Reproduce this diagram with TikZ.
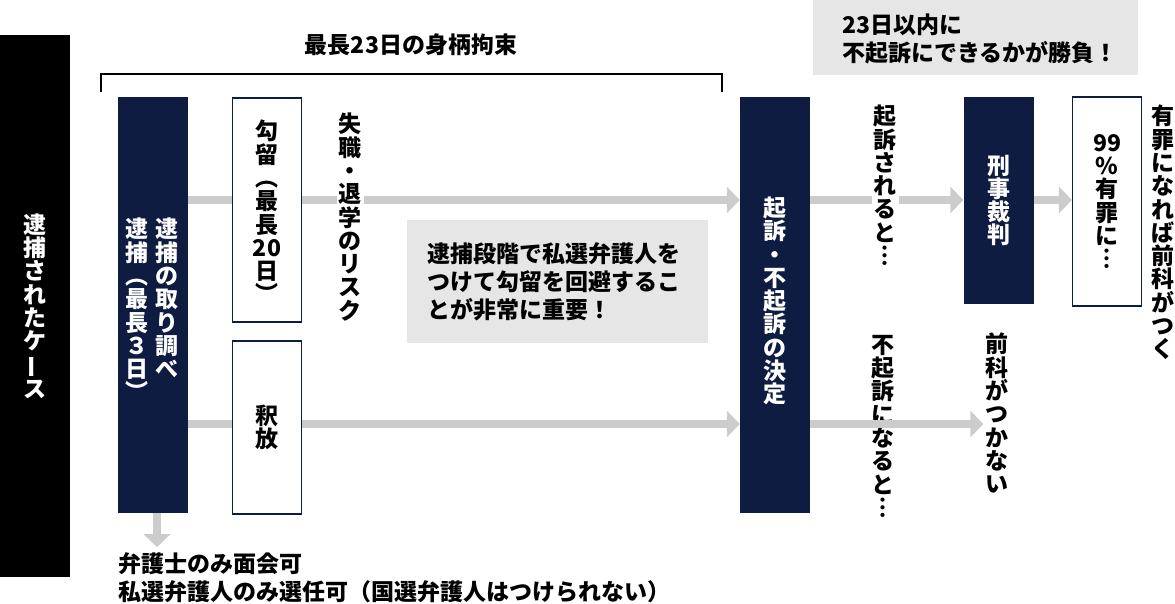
\documentclass[tikz,border=0pt]{standalone}
\usepackage{fontspec}
\setmainfont{Noto Sans CJK JP}
\usepackage{xcolor}
\usepackage{tikz}
\usetikzlibrary{arrows.meta, positioning}
\definecolor{navy}{RGB}{14,28,66}
\definecolor{flowgray}{RGB}{204,204,204}
\definecolor{notegray}{RGB}{230,230,230}
\newcommand{\vbar}{\rotatebox[origin=c]{90}{ー}}

\tikzset{
	txt/.style={inner sep=0pt, font=\bfseries\fontsize{23}{28}\selectfont},
	vlabel/.style={align=center, inner sep=0pt, font=\bfseries\fontsize{23}{23.3}\selectfont},
	navybox/.style={fill=navy, draw=none, minimum width=70, inner sep=0pt, text=white},
	whitebox/.style={fill=white, draw=navy, line width=1.2pt, minimum width=69, inner sep=0pt},
	notebox/.style={fill=notegray, draw=none, inner sep=0pt},
	flow/.style={draw=flowgray, line width=8pt, -{Triangle[width=26pt,length=13pt]}},
	bracket/.style={draw=black, line width=2.5pt}
}

\begin{document}
\begin{tikzpicture}[x=1pt, y=-1pt]
	\useasboundingbox (0,0) rectangle (1175,603);
	\coordinate (upper) at (0,200);
	\coordinate (lower) at (0,424);

	% left bar
	\node[fill=black, minimum width=70, minimum height=542, inner sep=0pt, text=white, vlabel] (case) at (35,306) {逮\\捕\\さ\\れ\\た\\ケ\\\vbar\\ス};

	% 23 days
	\node[txt] (period) at (411,45) {最長23日の身柄拘束};
	\draw[bracket] (101,92) -- (101,74) -- (722,74) -- (722,92);

	% boxes
	\node[navybox, minimum height=416] (arrest) at (153,305) {};
	\node[navybox, minimum height=416] (decide) at (775,305) {};
	\node[navybox, minimum height=207] (trial) at (998.5,200.5) {};

	\draw[flow] (arrest.east |- upper) -- (decide.west |- upper);
	\draw[flow] (arrest.east |- lower) -- (decide.west |- lower);
	\draw[flow] (decide.east |- upper) -- (trial.west |- upper);
	\draw[flow] (arrest.south) ++(4,0) -- ++(0,34);

	\node[whitebox, minimum height=224] (detain) at (267,210) {};
	\node[whitebox, minimum height=173, vlabel] (release) at (267,427.5) {釈\\放};
	\node[whitebox, minimum height=209, vlabel] (guilty) at (1107,201.5) {99\\\%\\有\\罪\\に\\︙};
	\draw[flow] (trial.east |- upper) -- (guilty.west |- upper);

	% texts in boxes
	\node[vlabel, text=white, anchor=north] (arrestA) at (167,218) {逮\\捕\\の\\取\\り\\調\\べ};
	\node[vlabel, text=white, anchor=north] (arrestB) at (137,218) {逮\\捕\\︵\\最\\長\\３\\日\\︶};
	\node[vlabel, anchor=north] (detainT) at (267,120) {勾\\留\\︵\\最\\長\\20\\日\\︶};
	\node[vlabel, text=white] (decideT) at (775,301) {起\\訴\\・\\不\\起\\訴\\の\\決\\定};
	\node[vlabel, text=white] (trialT) at (trial) {刑\\事\\裁\\判};

	% labels on the lines
	\node[vlabel, fill=white, inner sep=2pt, anchor=north] (risk) at (350,111) {失\\職\\・\\退\\学\\の\\リ\\ス\\ク};
	\node[vlabel, fill=white, inner sep=2pt, anchor=north] (indict) at (885,103) {起\\訴\\さ\\れ\\る\\と\\︙};
	\node[vlabel, fill=white, inner sep=2pt, anchor=north] (noindict) at (883,333) {不\\起\\訴\\に\\な\\る\\と\\︙};
	\node[vlabel, anchor=north] (norecord) at (997,333) {前\\科\\が\\つ\\か\\な\\い};
	\node[vlabel, anchor=north] (record) at (1163,105) {有\\罪\\に\\な\\れ\\ば\\前\\科\\が\\つ\\く};
	\draw[flow] (decide.east |- lower) -- ([xshift=-2pt]norecord.west |- lower);

	% notes
	\node[notebox, minimum width=325, minimum height=75] (deadline) at (975.5,37.5) {};
	\node[txt, align=left, anchor=west] (deadlineT) at (842,38.5) {23日以内に\\不起訴にできるかが勝負！};
	\node[notebox, minimum width=301, minimum height=123] (lawyer) at (557.5,281.5) {};
	\node[txt, align=left, anchor=west] (lawyerT) at (427,281.5) {逮捕段階で私選弁護人を\\つけて勾留を回避するこ\\とが非常に重要！};
	\node[txt, align=left, anchor=north west] (visit) at (118,552) {弁護士のみ面会可\\私選弁護人のみ選任可（国選弁護人はつけられない）};
\end{tikzpicture}
\end{document}
